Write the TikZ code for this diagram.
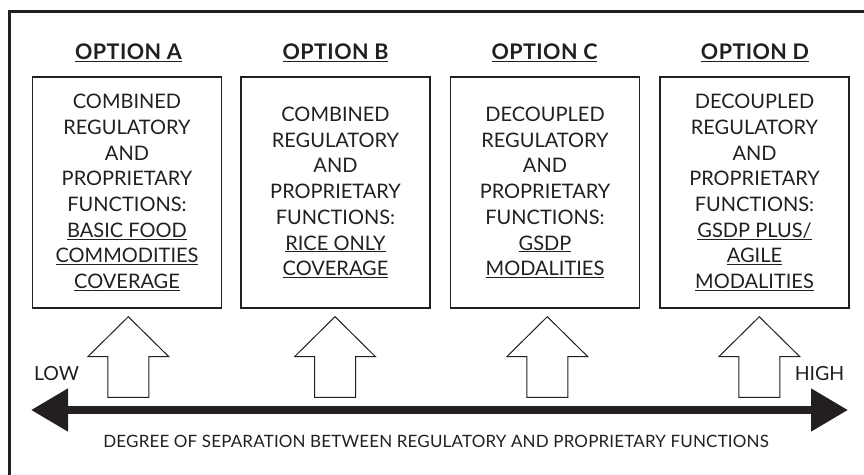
\documentclass[tikz,border=0pt]{standalone}
\usepackage{fontspec}
\setmainfont{Lato}
\usetikzlibrary{arrows.meta}
\definecolor{ink}{HTML}{231F20}
\begin{document}
\begin{tikzpicture}[x=1pt,y=-1pt,
  every node/.style={text=ink,inner sep=0pt},
  optbox/.style={draw=ink,line width=1.3pt,minimum width=189pt,minimum height=231pt,align=center,font=\fontsize{20}{25.7}\selectfont},
  title/.style={font=\fontsize{21.5}{25}\selectfont\bfseries\addfontfeature{LetterSpace=2}},
  blockarrow/.style={draw=ink,line width=1pt,fill=white,line join=miter}]
\useasboundingbox (0,0) rectangle (864,474);
\clip (0,0) rectangle (864,474);
\draw[ink,line width=3pt] (9,11) rectangle (900,520);
% titles
\node[title] (tA) at (128.5,52.5) {\underline{OPTION A}};
\node[title] (tB) at (335.5,52.5) {\underline{OPTION B}};
\node[title] (tC) at (544.5,52.5) {\underline{OPTION C}};
\node[title] (tD) at (755,52.5) {\underline{OPTION D}};
% boxes
\node[optbox] (bA) at (127,192.5) {COMBINED\\REGULATORY\\AND\\PROPRIETARY\\FUNCTIONS:\\\underline{BASIC FOOD}\\\underline{COMMODITIES}\\\underline{COVERAGE}};
\node[optbox] (bB) at (335.5,192.5) {COMBINED\\REGULATORY\\AND\\PROPRIETARY\\FUNCTIONS:\\\underline{RICE ONLY}\\\underline{COVERAGE}};
\node[optbox] (bC) at (545,192.5) {DECOUPLED\\REGULATORY\\AND\\PROPRIETARY\\FUNCTIONS:\\\underline{GSDP}\\\underline{MODALITIES}};
\node[optbox] (bD) at (754.5,192.5) {DECOUPLED\\REGULATORY\\AND\\PROPRIETARY\\FUNCTIONS:\\\underline{GSDP PLUS/}\\\underline{AGILE}\\\underline{MODALITIES}};
% block arrows
\foreach \n/\x in {aA/128.3,aB/335,aC/547.3,aD/759.3}{
  \coordinate (\n) at (\x,397.3);
  \draw[blockarrow] (\n) ++(-20.5,0) -- ++(0,-40.6) -- ++(-20,0) -- ++(40.5,-40) -- ++(40.5,40) -- ++(-20,0) -- ++(0,40.6) -- cycle;
}
% axis
\coordinate (L) at (31,410);
\coordinate (R) at (848,410);
\draw[ink,line width=8pt,{Triangle[length=37pt,width=41pt]}-{Triangle[length=37pt,width=41pt]}] (L) -- (R);
\node[font=\fontsize{19.5}{22}\selectfont] (low) at (56.5,374) {LOW};
\node[font=\fontsize{19.5}{22}\selectfont] (high) at (819.5,374) {HIGH};
\node[font=\fontsize{17}{20}\selectfont\addfontfeature{LetterSpace=1}] (deg) at (436,441) {DEGREE OF SEPARATION BETWEEN REGULATORY AND PROPRIETARY FUNCTIONS};
\end{tikzpicture}
\end{document}
